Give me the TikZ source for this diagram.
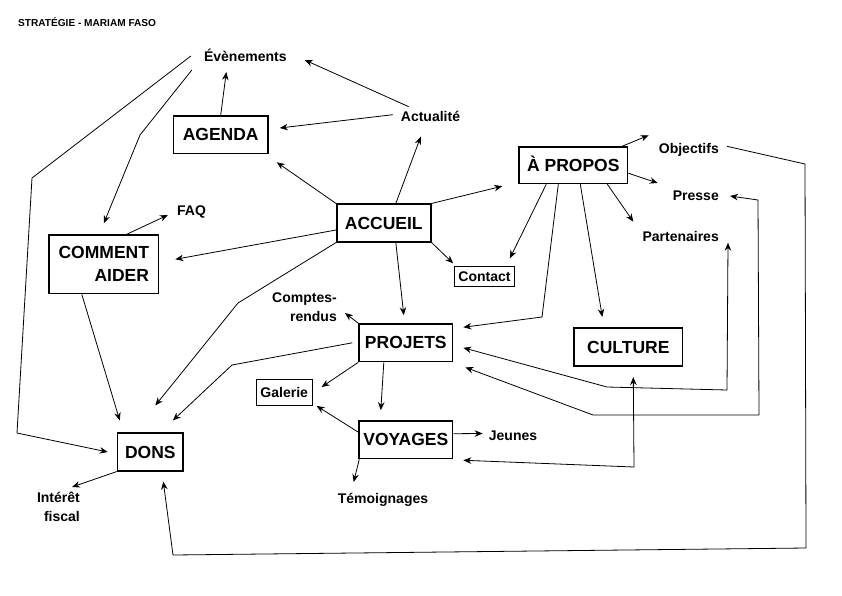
\documentclass[tikz,border=0pt]{standalone}
\usepackage{fontspec}
\setmainfont{Liberation Sans}
\usetikzlibrary{arrows.meta, shapes, positioning, calc}

\tikzset{
  bigbox/.style={draw, line width=1.6pt, font=\fontsize{17.5}{23}\selectfont\bfseries, minimum height=37.5pt, inner sep=0pt, align=right},
  smallbox/.style={draw, line width=0.8pt, font=\fontsize{14}{17}\selectfont\bfseries, inner sep=0pt},
  leaf/.style={font=\fontsize{14}{19}\selectfont\bfseries, inner sep=0pt, align=right},
  conn/.style={line width=0.8pt, -{Stealth[length=8pt,width=6.5pt]}},
  twoway/.style={line width=0.8pt, {Stealth[length=8pt,width=6.5pt]}-{Stealth[length=8pt,width=6.5pt]}}
}

\begin{document}
\begin{tikzpicture}[x=1pt,y=-1pt]
\useasboundingbox (0,0) rectangle (842,595);
\draw (18,26.7) node[anchor=base west, font=\fontsize{10.1}{12}\selectfont\bfseries, inner sep=0pt] (titre) {STRATÉGIE - MARIAM FASO};

\draw (220.7,134.7) node[bigbox, minimum width=94.5pt] (agenda) {AGENDA};
\draw (383.8,223) node[bigbox, minimum width=94pt] (accueil) {ACCUEIL};
\draw (573.3,165.2) node[bigbox, minimum width=108.5pt, minimum height=36.5pt, text height=12.5pt, text depth=0pt] (apropos) {À PROPOS};
\draw (103.8,264.3) node[bigbox, minimum width=109.5pt, minimum height=58.5pt] (comment) {COMMENT\\AIDER};
\draw (405.8,342.8) node[bigbox, minimum width=93.5pt] (projets) {PROJETS};
\draw (405.8,439.7) node[bigbox, minimum width=93.5pt] (voyages) {VOYAGES};
\draw (628.3,347) node[bigbox, minimum width=108.5pt] (culture) {CULTURE};
\draw (150.3,452) node[bigbox, minimum width=65.5pt] (dons) {DONS};
\draw (484.5,276.7) node[smallbox, minimum width=60pt, minimum height=20pt] (contact) {Contact};
\draw (284.2,392) node[smallbox, minimum width=56pt, minimum height=26pt] (galerie) {Galerie};

\draw (245.3,61) node[leaf, anchor=base] (evenements) {Évènements};
\draw (430.5,121.7) node[leaf, anchor=base] (actualite) {Actualité};
\draw (719,153.3) node[leaf, anchor=base east] (objectifs) {Objectifs};
\draw (719,200) node[leaf, anchor=base east] (presse) {Presse};
\draw (719,241.7) node[leaf, anchor=base east] (partenaires) {Partenaires};
\draw (191.5,215) node[leaf, anchor=base] (faq) {FAQ};
\draw (337,293) node[leaf, anchor=north east] (comptes) {Comptes-\\rendus};
\draw (80,492) node[leaf, anchor=north east] (fiscal) {Intérêt\\fiscal};
\draw (513,440) node[leaf, anchor=base] (jeunes) {Jeunes};
\draw (383,503) node[leaf, anchor=base] (temoignages) {Témoignages};

\coordinate (e1) at (32,178);
\coordinate (e2) at (17,433);
\coordinate (e3) at (140,135);
\coordinate (a1) at (238,303);
\coordinate (p1) at (232,365);
\coordinate (o1) at (805,164);
\coordinate (o2) at (806,548);
\coordinate (o3) at (173,555);
\coordinate (r1) at (593,415);
\coordinate (r2) at (759,415);
\coordinate (r3) at (758,200);
\coordinate (t1) at (607,387);
\coordinate (t2) at (727,390);
\coordinate (c1) at (634,467);
\coordinate (q1) at (542,317);

\draw[conn] ($(evenements.base west)+(-13,-5)$) -- (e1) -- (e2) -- ($(dons.west)+(-9,0)$);
\draw[conn] ($(evenements.base west)+(-12,9)$) -- (e3) -- ($(comment.north)+(0,-11)$);
\draw[conn] (agenda.north) -- ($(evenements.base)+(-19,11)$);
\draw[conn] ($(actualite.base west)+(-8,-7)$) -- ($(agenda.east)+(11,-6.7)$);
\draw[conn] ($(actualite.base west)+(8,-15)$) -- ($(evenements.base east)+(18,-1)$);
\draw[conn] (accueil.north west) -- ($(agenda.south east)+(8,8)$);
\draw[conn] ($(accueil.north)+(12,0)$) -- ($(actualite.base west)+(20,15)$);
\draw[conn] (accueil.north east) -- ($(apropos.west)+(-16,21)$);
\draw[conn] (accueil.south east) -- ($(contact.north west)+(-1,-3)$);
\draw[conn] ($(accueil.south)+(12,0)$) -- ($(projets.north)+(-2,-8)$);
\draw[conn] ($(accueil.west)+(0,7)$) -- ($(comment.east)+(16,-5)$);
\draw[conn] (accueil.south west) -- (a1) -- ($(dons.north)+(5,-27)$);
\draw[conn] ($(projets.west)+(-6,0)$) -- (p1) -- ($(dons.north east)+(-11,-12)$);
\draw[conn] ($(comment.south)+(-22,0)$) -- ($(dons.north west)+(3,-12)$);
\draw[conn] ($(comment.north)+(23,0)$) -- ($(faq.base west)+(-9,0)$);
\draw[conn] (dons.south west) -- ($(fiscal.north east)+(-8,-5)$);
\draw[conn] ($(objectifs.base east)+(8,-7)$) -- (o1) -- (o2) -- (o3) -- ($(dons.south)+(13,10)$);
\draw[twoway] ($(projets.south east)+(12,5)$) -- (r1) -- (r2) -- (r3) -- ($(presse.base east)+(11,-4)$);
\draw[twoway] ($(projets.east)+(10,5)$) -- (t1) -- (t2) -- ($(partenaires.base east)+(9,1)$);
\draw[twoway] ($(voyages.south east)+(10,1)$) -- (c1) -- ($(culture.south)+(5,10.5)$);
\draw[conn] ($(apropos.south)+(-15,0)$) -- (q1) -- ($(projets.north east)+(10,4)$);
\draw[conn] ($(apropos.south)+(7,0)$) -- ($(culture.north)+(-26,-10.5)$);
\draw[conn] ($(apropos.south west)+(28,0)$) -- ($(contact.north east)+(-5,-8)$);
\draw[conn] ($(apropos.south east)+(-21,0)$) -- ($(partenaires.base west)+(-9,-20)$);
\draw[conn] ($(apropos.east)+(0,8)$) -- ($(presse.base west)+(-15,-17)$);
\draw[conn] ($(apropos.north east)+(-6,0)$) -- ($(objectifs.base west)+(-10,-18)$);
\draw[conn] (projets.north west) -- ($(comptes.north east)+(8,20)$);
\draw[conn] (projets.south west) -- ($(galerie.east)+(9,-5)$);
\draw[conn] ($(projets.south)+(-22,0)$) -- ($(voyages.north)+(-25,-10)$);
\draw[conn] ($(voyages.north west)+(0,12)$) -- ($(galerie.south east)+(4,0.5)$);
\draw[conn] ($(voyages.east)+(0,-6)$) -- ($(jeunes.base west)+(-6,-6.5)$);
\draw[conn] ($(voyages.south west)+(1,0)$) -- ($(temoignages.base west)+(16,-21)$);
\end{tikzpicture}
\end{document}
